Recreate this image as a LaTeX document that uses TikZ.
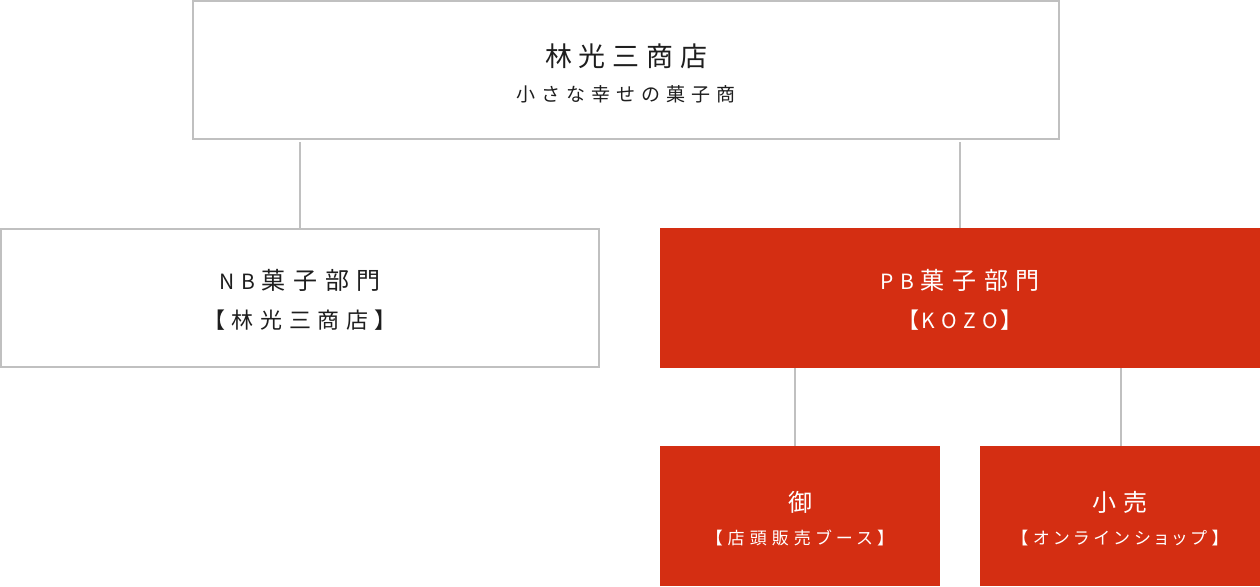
\documentclass[tikz,border=0pt]{standalone}
\usepackage{fontspec}
\newfontfamily\jpfont[LetterSpace=25]{Noto Sans CJK JP}
\newfontfamily\jpwide[LetterSpace=32]{Noto Sans CJK JP}
\newfontfamily\jppalt[LetterSpace=30,RawFeature=+palt]{Noto Sans CJK JP}
\definecolor{kozored}{HTML}{D42E12}
\definecolor{boxgray}{HTML}{C0C0C0}
\definecolor{inkgray}{HTML}{1E1E1E}
\begin{document}
\begin{tikzpicture}[
    whitebox/.style={draw=boxgray, line width=2pt, fill=white, inner sep=0pt,
      align=center, text=inkgray},
    redbox/.style={fill=kozored, inner sep=0pt, align=center, text=white},
    link/.style={draw=boxgray, line width=1.5pt}
  ]

\newcommand\headjp{\jpwide\fontsize{24pt}{24pt}\selectfont}
\newcommand\latinjp{\jpwide\fontsize{21pt}{21pt}\selectfont}
\newcommand\bracketjp{\jppalt\fontsize{22pt}{22pt}\selectfont}
\newcommand\tinyjp{\jppalt\fontsize{17pt}{17pt}\selectfont}
\newcommand\lift[1]{\rule{0pt}{#1}}

  \useasboundingbox (0pt,0pt) rectangle (1260pt,-586pt);

  %% head office
  \node[whitebox, minimum width=866pt, minimum height=138pt] (shop) at (626pt,-70pt)
  {{\jpfont\fontsize{27pt}{27pt}\selectfont \lift{30pt}林光三商店}\\[16pt]
   {\jpwide\fontsize{19pt}{19pt}\selectfont 小さな幸せの菓子商}};

  %% divisions
  \node[whitebox, minimum width=598pt, minimum height=138pt] (nb) at (300pt,-298pt)
  {{\lift{24pt}\latinjp NB\kern7pt\headjp 菓子部門}\\[17pt]
   {\bracketjp 【林光三商店】}};
  \node[redbox, minimum width=600pt, minimum height=140pt] (pb) at (960pt,-298pt)
  {{\lift{24pt}\latinjp PB\kern7pt\headjp 菓子部門}\\[17pt]
   {\bracketjp 【\kern3pt\latinjp KOZO\kern3pt\bracketjp 】}};

  %% sales
  \node[redbox, minimum width=280pt, minimum height=140pt] (gyo) at (800pt,-516pt)
  {{\headjp \lift{25pt}御}\\[16pt]{\tinyjp 【店頭販売ブース】}};
  \node[redbox, minimum width=280pt, minimum height=140pt] (kouri) at (1120pt,-516pt)
  {{\headjp \lift{25pt}小売}\\[16pt]{\tinyjp 【オンラインショップ】}};

  %% links
  \draw[link] ([yshift=-2pt]shop.south -| nb.north) -- (nb.north);
  \draw[link] ([yshift=-2pt]shop.south -| pb.north) -- (pb.north);
  \draw[link] ([xshift=-5pt]gyo.north |- pb.south) -- ([xshift=-5pt]gyo.north);
  \draw[link] ([xshift=1pt]kouri.north |- pb.south) -- ([xshift=1pt]kouri.north);

\end{tikzpicture}
\end{document}
